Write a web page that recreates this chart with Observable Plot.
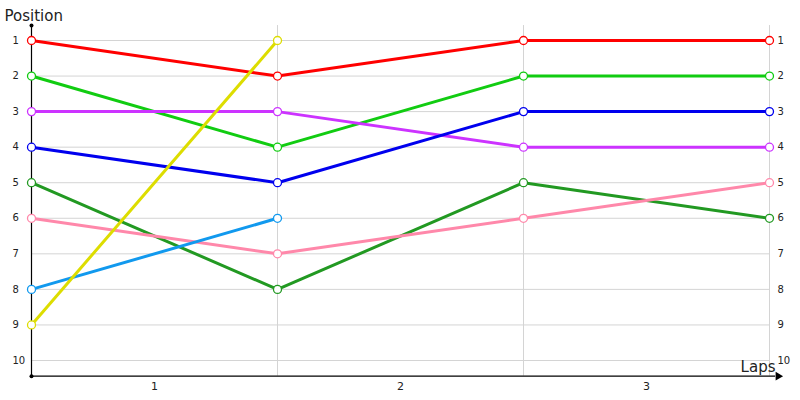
<!DOCTYPE html>
<html>
<head>
<meta charset="utf-8">
<script src="https://cdn.jsdelivr.net/npm/d3@7"></script>
<script src="https://cdn.jsdelivr.net/npm/@observablehq/plot@0.6"></script>
<style>
  html, body { margin: 0; padding: 0; background: #fff; }
</style>
</head>
<body>
<div id="chart"></div>
<script>
// Lap boundaries (x) and tick labels between them
const laps = [0, 1, 2, 3];
const lapLabels = ["1", "2", "3"];
const positions = [1, 2, 3, 4, 5, 6, 7, 8, 9, 10];

// Series (position at each lap boundary)
const seriesNames = ["S1", "S2", "S3", "S4", "S5", "S6", "S7", "S8"];
const s1Series = [1, 2, 1, 1];
const s2Series = [2, 4, 2, 2];
const s3Series = [3, 3, 4, 4];
const s4Series = [4, 5, 3, 3];
const s5Series = [5, 8, 5, 6];
const s6Series = [6, 7, 6, 5];
const s7Series = [8, 6];
const s8Series = [9, 1];
const seriesColors = ["#ff0000", "#11cc11", "#cc33ff", "#0000ee", "#229922", "#ff88aa", "#1199ee", "#dddd00"];

const allSeries = [s1Series, s2Series, s3Series, s4Series, s5Series, s6Series, s7Series, s8Series];
const rows = [];
allSeries.forEach((vals, s) => vals.forEach((v, i) => rows.push({series: seriesNames[s], lap: laps[i], pos: v})));

// axis extents (data units)
const yTop = 0.58, yBottom = 10.44, xEnd = 3.035;

const chart = Plot.plot({
  width: 800,
  height: 400,
  margin: 0,
  style: {fontFamily: "DejaVu Sans, Verdana, sans-serif", background: "#fff", color: "#222"},
  x: {domain: [0, 3], range: [31, 769], axis: null},
  y: {domain: [1, 10], range: [40, 360], axis: null},
  color: {type: "ordinal", domain: seriesNames, range: seriesColors},
  marks: [
    Plot.ruleY(positions, {x1: 0, x2: 3, stroke: "#d4d4d4", strokeWidth: 1}),
    Plot.ruleX(laps.slice(1), {y1: yTop, y2: yBottom, stroke: "#d4d4d4", strokeWidth: 1}),
    Plot.ruleX([0], {y1: yTop, y2: yBottom, stroke: "#000", strokeWidth: 1.2}),
    Plot.ruleY([yBottom], {x1: 0, x2: xEnd - 0.01, stroke: "#000", strokeWidth: 1.2}),
    Plot.dot([xEnd], {x: d => d, y: yBottom, symbol: "triangle", rotate: 90, r: 3.2, fill: "#000", stroke: null}),
    Plot.dot([yTop, yBottom], {x: 0, y: d => d, r: 2, fill: "#000", stroke: null}),
    Plot.line(rows, {x: "lap", y: "pos", z: "series", stroke: "series", strokeWidth: 3}),
    Plot.dot(rows, {x: "lap", y: "pos", stroke: "series", fill: "#fff", r: 4, strokeWidth: 1.3}),
    Plot.text(positions, {x: 0, y: d => d, text: d => String(d), dx: -19, textAnchor: "start", fontSize: 10, fill: "#222"}),
    Plot.text(positions, {x: 3, y: d => d, text: d => String(d), dx: 8, textAnchor: "start", fontSize: 10, fill: "#222"}),
    Plot.text(lapLabels, {x: (d, i) => laps[i] + 0.5, y: yBottom, text: d => d, dy: 10, fontSize: 11, fill: "#222"}),
    Plot.text(["Position"], {frameAnchor: "top-left", text: d => d, dx: 4, dy: 10, fontSize: 15, fill: "#222"}),
    Plot.text(["Laps"], {x: 3, y: yBottom, text: d => d, dx: 6, dy: -4, textAnchor: "end", lineAnchor: "bottom", fontSize: 15, fill: "#222"})
  ]
});
document.getElementById("chart").appendChild(chart);
</script>
</body>
</html>
